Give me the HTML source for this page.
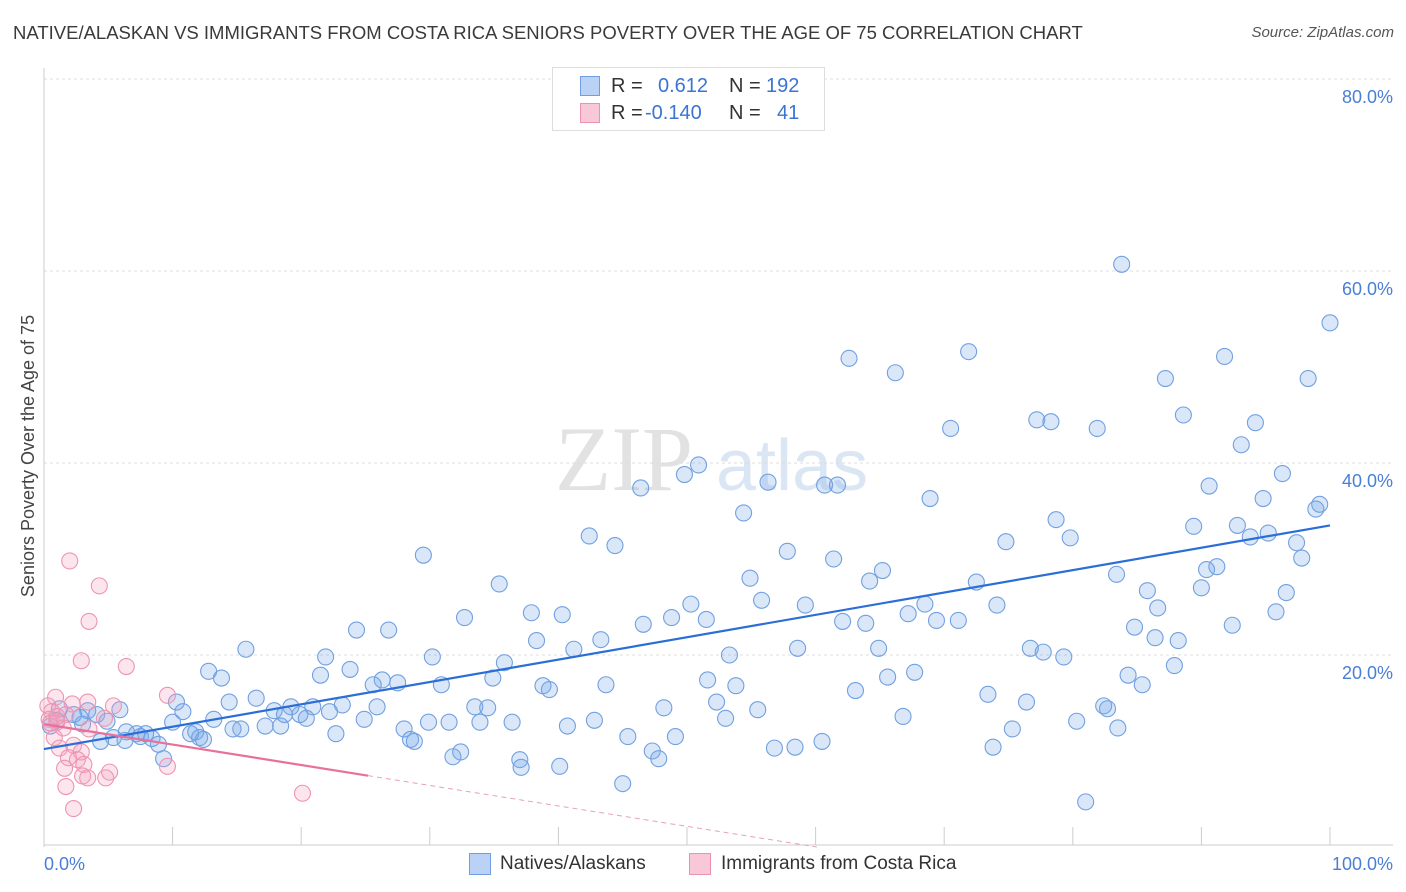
<!DOCTYPE html>
<html><head><meta charset="utf-8">
<style>
body{margin:0;background:#fff;font-family:"Liberation Sans",sans-serif;}
#wrap{position:relative;width:1406px;height:892px;overflow:hidden;}
.t{position:absolute;white-space:nowrap;}
</style></head>
<body>
<div id="wrap">
<div class="t" style="left:13px;top:22px;font-size:18.5px;color:#3a3a3a;">NATIVE/ALASKAN VS IMMIGRANTS FROM COSTA RICA SENIORS POVERTY OVER THE AGE OF 75 CORRELATION CHART</div>
<div class="t" style="right:12px;top:24px;font-size:15px;color:#555;font-style:italic;">Source: ZipAtlas.com</div>
<svg id="svg" width="1406" height="892" style="position:absolute;left:0;top:0"></svg>
</div>
<script>
const xMin=0,xMax=100,yMin=0,yMax=80;
const yTicks=[20,40,60,80];
const yTickLabels=["20.0%","40.0%","60.0%","80.0%"];
const xTicks=[0,10,20,30,40,50,60,70,80,90,100];
const blueX=[83.8,100,62.6,66.2,71.9,91.8,87.2,98.3,70.5,77.2,78.3,81.9,88.6,94.2,93.1,50.9,49.8,46.4,56.3,60.7,61.7,96.3,90.6,68.9,94.8,99.2,98.9,54.4,78.7,89.4,92.8,95.2,93.8,42.4,44.4,79.8,74.8,97.4,29.5,57.8,61.4,97.8,91.2,90.4,65.2,54.9,64.2,72.5,83.4,35.4,90,85.8,96.6,55.8,50.3,68.5,74.1,59.2,67.2,86.6,95.8,37.9,40.3,32.7,51.5,48.8,46.6,62.1,63.9,69.4,71.1,84.8,92.4,24.3,26.8,38.3,43.3,86.4,88.2,15.7,41.2,58.6,64.9,76.7,77.7,79.3,53.3,21.9,30.2,35.8,87.9,12.8,13.8,23.8,67.7,84.3,21.5,26.3,27.5,34.9,51.6,65.6,25.6,30.9,38.8,39.3,43.7,53.8,85.4,63.1,73.4,14.4,16.5,10.3,76.4,52.3,23.2,25.9,20.9,19.2,33.5,34.5,48.2,55.5,82.4,82.7,10.8,17.9,18.7,19.9,22.2,20.4,5.9,3.4,4.1,1.2,2.3,13.2,24.9,66.8,4.9,10,29.9,31.5,36.4,42.8,53,80.3,83.5,15.3,17.2,18.4,14.7,28,33.9,40.7,75.3,6.4,7.2,7.9,7.5,8.4,11.4,11.8,12.1,12.4,5.4,6.3,4.4,8.9,22.7,45.4,49.1,28.5,28.8,60.5,56.8,58.4,73.8,32.4,47.3,9.3,31.8,47.8,37,37.1,40.1,45,81,1.0,0.5,2.8,3.0];
const blueY=[60.7,54.6,50.9,49.4,51.6,51.1,48.8,48.8,43.6,44.5,44.3,43.6,45,44.2,41.9,39.8,38.8,37.4,38,37.7,37.7,38.9,37.6,36.3,36.3,35.7,35.2,34.8,34.1,33.4,33.5,32.7,32.3,32.4,31.4,32.2,31.8,31.7,30.4,30.8,30,30.1,29.2,28.9,28.8,28,27.7,27.6,28.4,27.4,27,26.7,26.5,25.7,25.3,25.3,25.2,25.2,24.3,24.9,24.5,24.4,24.2,23.9,23.7,23.9,23.2,23.5,23.3,23.6,23.6,22.9,23.1,22.6,22.6,21.5,21.6,21.8,21.5,20.6,20.6,20.7,20.7,20.7,20.3,19.8,20,19.8,19.8,19.2,18.9,18.3,17.6,18.5,18.2,17.9,17.9,17.4,17.1,17.6,17.4,17.7,16.9,16.9,16.8,16.4,16.9,16.8,16.9,16.3,15.9,15.1,15.5,15.1,15.1,15.1,14.8,14.6,14.6,14.6,14.6,14.5,14.5,14.3,14.7,14.4,14.1,14.2,13.8,13.8,14.1,13.4,14.3,14.2,13.8,14.4,13.8,13.3,13.3,13.6,13.1,13,13,13,13,13.2,13.4,13.1,12.4,12.3,12.6,12.6,12.3,12.3,13,12.6,12.3,12,11.8,11.8,11.5,11.3,11.8,12,11.4,11.2,11.4,11.1,11,10.7,11.8,11.5,11.5,11.2,11,11,10.3,10.4,10.4,9.9,10,9.2,9.4,9.2,9.1,8.3,8.4,6.6,4.7,13.2,12.6,13.5,12.8];
const pinkX=[2,4.3,3.5,2.9,6.4,9.6,0.9,2.2,3.4,5.4,0.3,0.6,1.7,0.4,1,4.7,1.5,3.5,0.8,2.3,1.2,2.9,1.9,2.6,3.1,1.6,5.1,9.6,3,3.4,4.8,1.7,2.3,20.1,0.5,1];
const pinkY=[29.8,27.2,23.5,19.4,18.8,15.8,15.6,14.9,15.1,14.7,14.7,14.1,13.8,13.3,13,13.4,12.4,12.3,11.4,10.6,10.3,9.9,9.3,9.1,8.6,8.2,7.8,8.4,7.4,7.2,7.2,6.3,4,5.6,12.9,13.6];
const blueTrend=[10.2,33.5];
const pinkTrend=[12.8,-0.213];
const pinkSolidEnd=25.2;

const L=44,R=1330,T=79,B=847;
const sx=v=>L+(v-xMin)/(xMax-xMin)*(R-L);
const sy=v=>B-(v-yMin)/(yMax-yMin)*(B-T);
const svg=document.getElementById('svg');
const NS='http://www.w3.org/2000/svg';
function mk(tag,attrs){const e=document.createElementNS(NS,tag);for(const k in attrs)e.setAttribute(k,attrs[k]);svg.appendChild(e);return e;}

let w=mk('text',{x:555,y:490,'font-size':92,'font-family':'Liberation Serif,serif',fill:'#e2e2e2'});
w.textContent='ZIP';


let w2=mk('text',{x:716,y:490,'font-size':72,'font-family':'Liberation Sans,sans-serif',fill:'#dbe6f5'});
w2.textContent='atlas';



yTicks.forEach((v,i)=>{
  const g=mk('line',{x1:L,x2:1393,y1:sy(v),y2:sy(v),stroke:'#dcdcdc','stroke-dasharray':'3,3'});
  
  
  const t=mk('text',{x:1393,y:sy(v)+24,'text-anchor':'end','font-size':18,fill:'#4a7ed6','font-family':'Liberation Sans,sans-serif'});
  t.textContent=yTickLabels[i];
  
  
});
let ax=mk('line',{x1:L,x2:L,y1:68,y2:B,stroke:'#ccc'});


let bx=mk('line',{x1:L,x2:1393,y1:845,y2:845,stroke:'#ccc'});


xTicks.forEach(v=>{
  const l=mk('line',{x1:sx(v),x2:sx(v),y1:827,y2:845,stroke:'#ccc'});
  
  
});
[['0.0%',44,'start'],['100.0%',1393,'end']].forEach(a=>{
  const t=mk('text',{x:a[1],y:870,'text-anchor':a[2],'font-size':18,fill:'#4a7ed6','font-family':'Liberation Sans,sans-serif'});
  t.textContent=a[0];
  
  
});
let yt=mk('text',{x:0,y:0,'font-size':18,fill:'#444','text-anchor':'middle','font-family':'Liberation Sans,sans-serif',transform:'translate(34,456) rotate(-90)'});
yt.textContent='Seniors Poverty Over the Age of 75';



blueX.forEach((x,i)=>{
  const c=mk('circle',{cx:sx(x),cy:sy(blueY[i]),r:8,fill:'rgba(120,170,235,0.28)',stroke:'#72a0e0','stroke-width':1.1});
  
  
});
pinkX.forEach((x,i)=>{
  const c=mk('circle',{cx:sx(x),cy:sy(pinkY[i]),r:8,fill:'rgba(245,160,190,0.28)',stroke:'#ee94b2','stroke-width':1.1});
  
  
});
let bt=mk('line',{x1:sx(0),y1:sy(blueTrend[0]),x2:sx(100),y2:sy(blueTrend[1]),stroke:'#2b6fd6','stroke-width':2.2});


const pf=x=>pinkTrend[0]+pinkTrend[1]*x;
let pt=mk('line',{x1:sx(0),y1:sy(pf(0)),x2:sx(pinkSolidEnd),y2:sy(pf(pinkSolidEnd)),stroke:'#e8709a','stroke-width':2.2});


const xe=pinkTrend[0]/-pinkTrend[1];
let pd=mk('line',{x1:sx(pinkSolidEnd),y1:sy(pf(pinkSolidEnd)),x2:sx(xe),y2:sy(0),stroke:'#e8a0b8','stroke-width':1,'stroke-dasharray':'5,4'});


</script>
<div class="t" style="left:552px;top:67px;width:271px;height:62px;border:1px solid #ddd;background:#fff;font-size:20px;">
  <div class="t" style="left:27px;top:8px;width:18px;height:18px;background:#b9d2f5;border:1px solid #6f9fe0;"></div>
  <div class="t" style="left:58px;top:7px;color:#333;">R =</div>
  <div class="t" style="left:105px;top:7px;color:#3a74d4;">0.612</div>
  <div class="t" style="left:176px;top:7px;color:#333;">N =</div>
  <div class="t" style="left:213px;top:7px;color:#3a74d4;">192</div>
  <div class="t" style="left:27px;top:35px;width:18px;height:18px;background:#f9c8d8;border:1px solid #ee90b0;"></div>
  <div class="t" style="left:58px;top:34px;color:#333;">R =</div>
  <div class="t" style="left:92px;top:34px;color:#3a74d4;">-0.140</div>
  <div class="t" style="left:176px;top:34px;color:#333;">N =</div>
  <div class="t" style="left:224px;top:34px;color:#3a74d4;">41</div>
</div>
<div class="t" style="left:469px;top:853px;width:20px;height:20px;background:#b9d2f5;border:1px solid #6f9fe0;"></div>
<div class="t" style="left:500px;top:853px;font-size:19px;color:#333;">Natives/Alaskans</div>
<div class="t" style="left:689px;top:853px;width:20px;height:20px;background:#f9c8d8;border:1px solid #ee90b0;"></div>
<div class="t" style="left:721px;top:853px;font-size:19px;color:#333;">Immigrants from Costa Rica</div>
</body></html>
